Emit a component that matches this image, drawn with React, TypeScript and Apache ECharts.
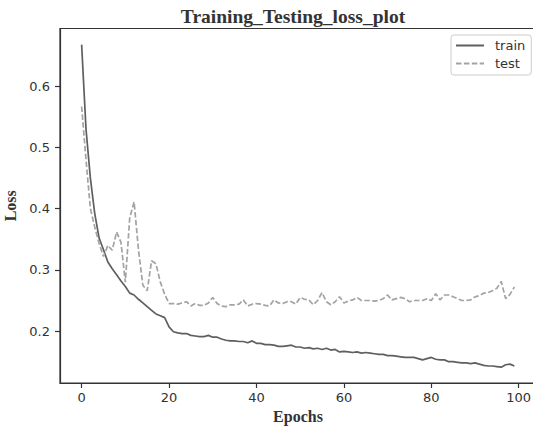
import React, { useEffect, useRef } from "react";
import * as echarts from "echarts";

const epochs: number[] = Array.from({ length: 100 }, (_, i) => i);

const trainLoss: number[] = [
  0.668, 0.53, 0.45, 0.392, 0.352, 0.333, 0.313, 0.302, 0.292, 0.282,
  0.273, 0.262, 0.259, 0.252, 0.246, 0.24, 0.234, 0.228, 0.225, 0.222,
  0.207, 0.199, 0.197, 0.196, 0.196, 0.193, 0.192, 0.191, 0.191, 0.193,
  0.19, 0.19, 0.187, 0.185, 0.184, 0.184, 0.183, 0.183, 0.181, 0.184,
  0.18, 0.18, 0.178, 0.178, 0.177, 0.175, 0.175, 0.176, 0.177, 0.174,
  0.174, 0.172, 0.173, 0.171, 0.172, 0.17, 0.172, 0.169, 0.17, 0.166,
  0.167, 0.166, 0.165, 0.166, 0.164, 0.165, 0.164, 0.163, 0.162, 0.162,
  0.16, 0.16, 0.159, 0.158, 0.157, 0.157, 0.157, 0.155, 0.153, 0.155,
  0.157, 0.154, 0.153, 0.153, 0.15, 0.15, 0.149, 0.148, 0.148, 0.147,
  0.148, 0.146, 0.144, 0.143, 0.143, 0.142, 0.141, 0.145, 0.146, 0.143,
];

const testLoss: number[] = [
  0.567, 0.48, 0.4, 0.37, 0.343, 0.322, 0.34, 0.332, 0.362, 0.345,
  0.28, 0.385, 0.411, 0.333, 0.275, 0.266, 0.315, 0.31, 0.28, 0.26,
  0.245, 0.245, 0.244, 0.246, 0.248, 0.241, 0.245, 0.242, 0.242, 0.246,
  0.255, 0.245, 0.241, 0.24, 0.243, 0.243, 0.244, 0.251, 0.241, 0.244,
  0.245, 0.244, 0.242, 0.241, 0.251, 0.246, 0.245, 0.248, 0.248, 0.244,
  0.255, 0.252, 0.251, 0.243, 0.25, 0.263, 0.248, 0.243, 0.248, 0.256,
  0.246, 0.249, 0.251, 0.255, 0.25, 0.25, 0.25, 0.249, 0.25, 0.253,
  0.259, 0.251, 0.253, 0.255, 0.253, 0.248, 0.25, 0.25, 0.25, 0.253,
  0.25, 0.261, 0.251, 0.259, 0.259, 0.256, 0.253, 0.25, 0.25, 0.251,
  0.256, 0.258, 0.262, 0.263, 0.266, 0.27, 0.281, 0.253, 0.26, 0.272,
];

const xTicks: number[] = [0, 20, 40, 60, 80, 100];
const yTicks: number[] = [0.2, 0.3, 0.4, 0.5, 0.6];

const SANS = "DejaVu Sans";
const SERIF = "Liberation Serif";
const AXIS_COLOR = "#333333";

export default function App() {
  const ref = useRef<HTMLDivElement>(null);
  useEffect(() => {
    if (!ref.current) return;
    const chart = echarts.init(ref.current, undefined, { renderer: "svg" });
    chart.setOption({
      animation: false,
      backgroundColor: "#ffffff",
      title: {
        text: "Training_Testing_loss_plot",
        left: 288,
        top: 1,
        textAlign: "center",
        textStyle: { fontFamily: SERIF, fontWeight: "bold", fontSize: 19.5, color: "#333333" },
      },
      legend: {
        orient: "vertical",
        left: 451,
        top: 35,
        padding: [4, 6, 5, 4],
        itemWidth: 28,
        itemHeight: 14,
        itemGap: 5,
        backgroundColor: "#ffffff",
        borderColor: "#cccccc",
        borderWidth: 1,
        borderRadius: 3,
        itemStyle: { opacity: 0 },
        textStyle: { fontFamily: SANS, fontSize: 13, color: "#333333", padding: [0, 0, 0, 6] },
        data: ["train", "test"],
      },
      grid: {
        left: 60,
        top: 28.5,
        width: 476,
        height: 354.5,
        outerBoundsMode: "none",
        containLabel: false,
        show: true,
        borderColor: AXIS_COLOR,
        borderWidth: 1.2,
        backgroundColor: "#ffffff",
      },
      xAxis: {
        type: "value",
        min: -4.95,
        max: 103.95,
        name: "Epochs",
        nameLocation: "middle",
        nameGap: 25,
        nameTextStyle: { fontFamily: SERIF, fontWeight: "bold", fontSize: 16, color: "#333333" },
        splitLine: { show: false },
        axisLine: { show: true, onZero: false, lineStyle: { color: AXIS_COLOR, width: 1.2 } },
        axisTick: { show: true, inside: false, length: 5, customValues: xTicks, lineStyle: { color: AXIS_COLOR, width: 1.2 } },
        axisLabel: { customValues: xTicks, margin: 8, fontFamily: SANS, fontSize: 13, color: "#333333" },
      },
      yAxis: {
        type: "value",
        min: 0.1152,
        max: 0.6944,
        name: "Loss",
        nameLocation: "middle",
        nameGap: 36,
        nameTextStyle: { fontFamily: SERIF, fontWeight: "bold", fontSize: 16, color: "#333333" },
        splitLine: { show: false },
        axisLine: { show: true, onZero: false, lineStyle: { color: AXIS_COLOR, width: 1.2 } },
        axisTick: { show: true, inside: false, length: 5, customValues: yTicks, lineStyle: { color: AXIS_COLOR, width: 1.2 } },
        axisLabel: {
          customValues: yTicks,
          margin: 10,
          fontFamily: SANS,
          fontSize: 13,
          color: "#333333",
          formatter: (v: number) => v.toFixed(1),
        },
      },
      series: [
        {
          name: "train",
          type: "line",
          data: epochs.map((e, i) => [e, trainLoss[i]]),
          symbol: "none",
          lineStyle: { color: "#5f5f5f", width: 1.7, type: "solid" },
          itemStyle: { color: "#5f5f5f" },
        },
        {
          name: "test",
          type: "line",
          data: epochs.map((e, i) => [e, testLoss[i]]),
          symbol: "none",
          lineStyle: { color: "#a3a3a3", width: 1.7, type: [5.5, 2.4] },
          itemStyle: { color: "#a3a3a3" },
        },
      ],
    });
    return () => chart.dispose();
  }, []);
  return <div ref={ref} style={{ width: 533, height: 430, position: "absolute", left: 0, top: 0 }} />;
}
